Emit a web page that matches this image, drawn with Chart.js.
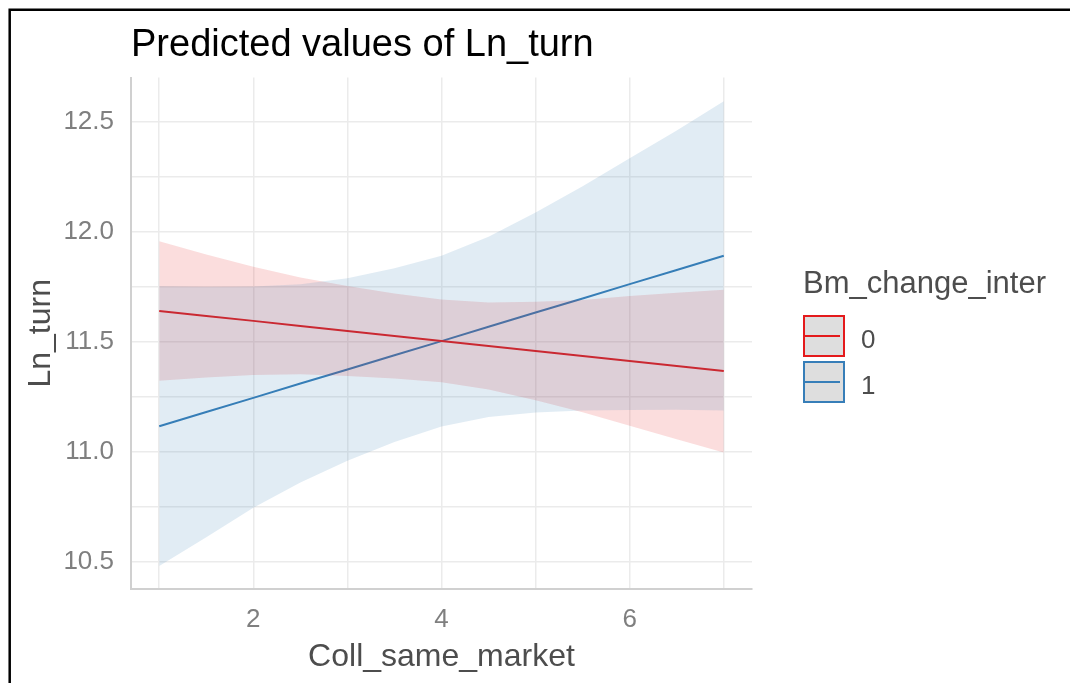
<!DOCTYPE html>
<html lang="en">
<head>
<meta charset="UTF-8" />
<title>Predicted values of Ln_turn</title>
<script src="https://cdn.jsdelivr.net/npm/chart.js"></script>
<style>
    html, body { margin: 0; padding: 0; background: #ffffff; }
    #chart-box { width: 1070px; height: 683px; }
</style>
</head>
<body>
<div id="chart-box"><canvas id="predChart" width="1070" height="683"></canvas></div>
<script>
const collSameMarket = [1, 1.5, 2, 2.5, 3, 3.5, 4, 4.5, 5, 5.5, 6, 6.5, 7];

// Bm_change_inter = 0 (red)
const fit0   = [11.639, 11.616, 11.594, 11.571, 11.548, 11.525, 11.503, 11.480, 11.457, 11.434, 11.412, 11.389, 11.366];
const upper0 = [11.956, 11.896, 11.840, 11.791, 11.753, 11.718, 11.691, 11.678, 11.681, 11.689, 11.707, 11.722, 11.736];
const lower0 = [11.322, 11.336, 11.348, 11.351, 11.343, 11.332, 11.315, 11.282, 11.233, 11.179, 11.117, 11.056, 10.996];

// Bm_change_inter = 1 (blue)
const fit1   = [11.115, 11.180, 11.244, 11.309, 11.373, 11.438, 11.502, 11.567, 11.632, 11.696, 11.761, 11.825, 11.890];
const upper1 = [11.751, 11.749, 11.750, 11.760, 11.788, 11.833, 11.890, 11.977, 12.087, 12.206, 12.333, 12.460, 12.593];
const lower1 = [10.479, 10.610, 10.744, 10.859, 10.958, 11.043, 11.114, 11.157, 11.177, 11.186, 11.189, 11.190, 11.187];

const xTickLabels = [2, 4, 6];
const yTickLabels = [10.5, 11.0, 11.5, 12.0, 12.5];
const groupLabels = ['0', '1'];
const groupColors = ['#e41a1c', '#377eb8'];
const ribbonColors = ['rgba(228, 26, 28, 0.15)', 'rgba(55, 126, 184, 0.15)'];

const pts = ys => collSameMarket.map((x, i) => ({ x: x, y: ys[i] }));
const inList = (list, v) => list.some(t => Math.abs(t - v) < 1e-6);

Chart.defaults.font.family = '"Liberation Sans", Arial, sans-serif';

// black frame of the screenshot (left and top only)
const framePlugin = {
    id: 'frame',
    afterDraw(chart) {
        const ctx = chart.ctx;
        ctx.save();
        ctx.strokeStyle = '#000';
        ctx.lineWidth = 2.5;
        ctx.beginPath();
        ctx.moveTo(9.7, chart.height);
        ctx.lineTo(9.7, 9.7);
        ctx.lineTo(chart.width, 9.7);
        ctx.stroke();
        ctx.restore();
    }
};

// ggplot style legend: title, grey keys with coloured outline and line
const ggLegend = {
    id: 'ggLegend',
    afterDraw(chart) {
        const ctx = chart.ctx;
        const left = chart.chartArea.right + 51;
        const fits = chart.data.datasets.filter(d => d.isFit);
        ctx.save();
        ctx.textBaseline = 'alphabetic';
        ctx.textAlign = 'left';
        ctx.font = '31px "Liberation Sans", Arial, sans-serif';
        ctx.fillStyle = '#4d4d4d';
        ctx.fillText('Bm_change_inter', left, 293);
        fits.forEach((d, i) => {
            const top = 315 + i * 46;
            ctx.fillStyle = '#dedede';
            ctx.fillRect(left, top, 42, 42);
            ctx.strokeStyle = d.borderColor;
            ctx.lineWidth = 2;
            ctx.strokeRect(left + 1, top + 1, 40, 40);
            ctx.beginPath();
            ctx.moveTo(left + 1, top + 21);
            ctx.lineTo(left + 37, top + 21);
            ctx.stroke();
            ctx.font = '26px "Liberation Sans", Arial, sans-serif';
            ctx.fillStyle = '#4d4d4d';
            ctx.fillText(d.label, left + 58, top + 33);
        });
        ctx.restore();
    }
};

const ribbon = (ys, color, fill) => ({
    data: pts(ys),
    borderWidth: 0,
    borderColor: 'transparent',
    backgroundColor: color,
    pointRadius: 0,
    fill: fill
});

const ctx = document.getElementById('predChart').getContext('2d');
new Chart(ctx, {
    type: 'line',
    data: {
        datasets: [
            ribbon(upper1, ribbonColors[1], '+1'),
            ribbon(lower1, ribbonColors[1], false),
            ribbon(upper0, ribbonColors[0], '+1'),
            ribbon(lower0, ribbonColors[0], false),
            { label: groupLabels[0], isFit: true, data: pts(fit0), borderColor: groupColors[0], borderWidth: 2, pointRadius: 0, fill: false },
            { label: groupLabels[1], isFit: true, data: pts(fit1), borderColor: groupColors[1], borderWidth: 2, pointRadius: 0, fill: false }
        ]
    },
    options: {
        responsive: false,
        animation: false,
        layout: { padding: { left: 0, right: 318, top: 0, bottom: 0 } },
        plugins: {
            legend: { display: false },
            tooltip: { enabled: false },
            title: {
                display: true,
                text: 'Predicted values of Ln_turn',
                align: 'start',
                fullSize: false,
                color: '#000',
                font: { size: 38, weight: 'normal' },
                padding: { top: 23, bottom: 9 }
            }
        },
        scales: {
            x: {
                type: 'linear',
                min: 0.7,
                max: 7.3,
                afterFit(scale) { scale.height = 94; },
                grid: { color: '#ebebeb', lineWidth: 1.5, drawTicks: false },
                border: { color: '#d0d0d0', width: 2 },
                ticks: {
                    stepSize: 1,
                    includeBounds: false,
                    autoSkip: false,
                    maxRotation: 0,
                    padding: 15,
                    color: '#7f7f7f',
                    font: { size: 26 },
                    callback: v => inList(xTickLabels, v) ? String(v) : ''
                },
                title: {
                    display: true,
                    text: 'Coll_same_market',
                    color: '#4d4d4d',
                    font: { size: 32 },
                    padding: { top: 0, bottom: 7 }
                }
            },
            y: {
                type: 'linear',
                min: 10.375,
                max: 12.70,
                afterFit(scale) { scale.width = 131; },
                grid: { color: '#ebebeb', lineWidth: 1.5, drawTicks: false },
                border: { color: '#d0d0d0', width: 2 },
                ticks: {
                    stepSize: 0.25,
                    includeBounds: false,
                    autoSkip: false,
                    padding: 17,
                    color: '#7f7f7f',
                    font: { size: 26 },
                    callback: v => inList(yTickLabels, v) ? v.toFixed(1) : ''
                },
                title: {
                    display: true,
                    text: 'Ln_turn',
                    color: '#4d4d4d',
                    font: { size: 32 },
                    padding: { top: 22, bottom: 0 }
                }
            }
        }
    },
    plugins: [framePlugin, ggLegend]
});
</script>
</body>
</html>
